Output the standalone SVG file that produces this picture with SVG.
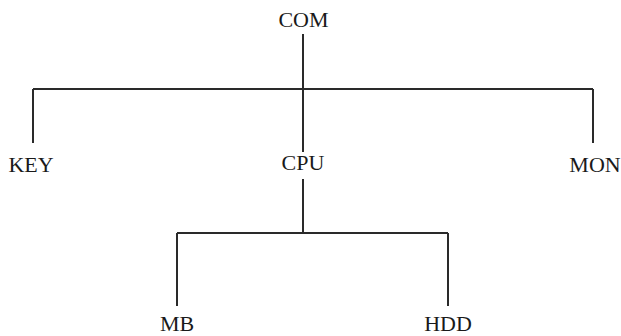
<svg xmlns="http://www.w3.org/2000/svg" width="621" height="336" viewBox="0 0 621 336">
<style>
.l{stroke:#2a2a2a;stroke-width:2;fill:none}
.t{font-family:"Liberation Serif","Times New Roman",serif;font-size:22px;fill:#1a1a1a;text-anchor:middle}
</style>
<rect width="621" height="336" fill="#fff"/>
<g id="connectors">
<path class="l" d="M303 34V89M33 89H593M33 89V143M303 89V152M593 89V143"/>
<path class="l" d="M303 179V233M177 233H448M177 233V306M448 233V306"/>
</g>
<g id="COM"><text class="t" x="303.5" y="27">COM</text></g>
<g id="KEY"><text class="t" x="31" y="172">KEY</text></g>
<g id="CPU"><text class="t" x="303" y="170">CPU</text></g>
<g id="MON"><text class="t" x="595" y="172">MON</text></g>
<g id="MB"><text class="t" x="177" y="330.5">MB</text></g>
<g id="HDD"><text class="t" x="448" y="330.5">HDD</text></g>
</svg>
